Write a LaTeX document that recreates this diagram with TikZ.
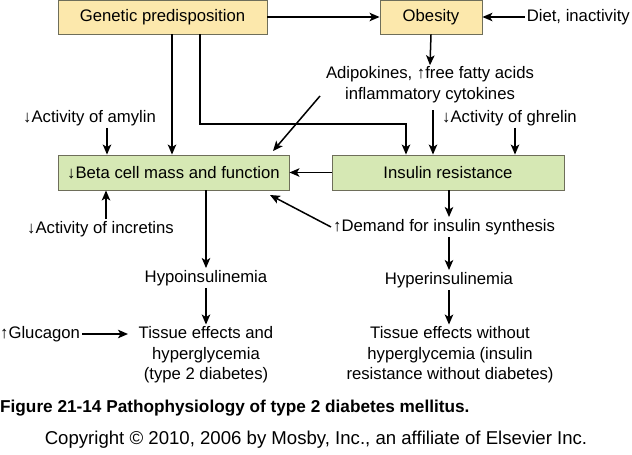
\documentclass[tikz,border=0pt]{standalone}
\usepackage{fontspec}
\setmainfont{Liberation Sans}
\usetikzlibrary{arrows.meta}
\definecolor{ybox}{HTML}{FCE8AC}
\definecolor{gbox}{HTML}{D6E8B4}
\definecolor{bdr}{HTML}{6E6E5A}
\tikzset{
  arr/.style={draw=black, line width=1.5pt, -{Stealth[length=10pt,width=8.5pt,inset=2.5pt]}},
  yb/.style={draw=bdr, fill=ybox, line width=0.9pt, inner sep=0pt},
  gb/.style={draw=bdr, fill=gbox, line width=0.9pt, inner sep=0pt},
  lbl/.style={inner sep=2pt, align=center}
}
\begin{document}
\begin{tikzpicture}[x=1pt,y=-1pt,font=\fontsize{16.7}{20.5}\selectfont]
\useasboundingbox[fill=white] (0,0) rectangle (632,455);
% boxes
\node[yb, minimum width=209pt, minimum height=34pt] (gen) at (162.5,17) {Genetic predisposition};
\node[yb, minimum width=102pt, minimum height=34pt] (obe) at (431,17) {Obesity};
\node[gb, minimum width=231pt, minimum height=35pt] (beta) at (173.5,172.5) {↓Beta cell mass and function};
\node[gb, minimum width=232pt, minimum height=35pt] (ir) at (448,172.5) {Insulin resistance};
% labels
\node[lbl, anchor=east] (diet) at (632,17) {Diet, inactivity};
\node[lbl] (adip) at (430,84.5) {Adipokines, ↑free fatty acids\\inflammatory cytokines};
\node[lbl, anchor=west] (ghr) at (440,118) {↓Activity of ghrelin};
\node[lbl, anchor=west] (amy) at (21,118) {↓Activity of amylin};
\node[lbl, anchor=west] (inc) at (25,229) {↓Activity of incretins};
\node[lbl] (hypo) at (206,278) {Hypoinsulinemia};
\node[lbl] (t2d) at (206,355) {Tissue effects and\\hyperglycemia\\(type 2 diabetes)};
\node[lbl, anchor=west] (gluc) at (-2,334) {↑Glucagon};
\node[lbl, anchor=west] (dem) at (331,227) {↑Demand for insulin synthesis};
\node[lbl] (hyper) at (449,280) {Hyperinsulinemia};
\node[lbl] (nod) at (450,355) {Tissue effects without\\hyperglycemia (insulin\\resistance without diabetes)};
\node[anchor=west, inner sep=0pt, font=\fontsize{17.2}{20}\selectfont\bfseries] (cap) at (0,408) {Figure 21-14 Pathophysiology of type 2 diabetes mellitus.};
\node[inner sep=0pt, font=\fontsize{18.6}{22}\selectfont] (copy) at (316,440) {Copyright © 2010, 2006 by Mosby, Inc., an affiliate of Elsevier Inc.};
% helper coordinates
\coordinate (c1) at (172,0);
\coordinate (g2) at (200,124);
\coordinate (bend) at (406,124);
\coordinate (a1) at (433,110);
\coordinate (gh) at (515,0);
\coordinate (am) at (107,0);
\coordinate (in) at (106,0);
\coordinate (bd) at (206,0);
\coordinate (d1) at (320,96);
\coordinate (d1e) at (273,151);
\coordinate (d2e) at (270,195);
\coordinate (gend) at (128,334);
\coordinate (irx) at (449,0);
% connectors
\draw[arr] (gen.east) -- (obe.west);
\draw[arr] (diet.west) -- (obe.east);
\draw[arr] (obe.south) -- ([yshift=-1pt]adip.north);
\draw[arr] (gen.south -| c1) -- (beta.north -| c1);
\draw[arr] (gen.south -| g2) -- (g2) -- (bend) -- (ir.north -| bend);
\draw[arr] (a1) -- (ir.north -| a1);
\draw[arr] (ghr.south -| gh) -- (ir.north -| gh);
\draw[arr] (d1) -- (d1e);
\draw[arr] (amy.south -| am) -- (beta.north -| am);
\draw[arr] (inc.north -| in) -- (beta.south -| in);
\draw[arr] (ir.west) -- (beta.east);
\draw[arr] (beta.south -| bd) -- (hypo.north);
\draw[arr] (hypo.south) -- (t2d.north);
\draw[arr] (gluc.east) -- (gend);
\draw[arr] (ir.south -| irx) -- (dem.north -| irx);
\draw[arr] (dem.west) -- (d2e);
\draw[arr] (dem.south -| irx) -- (hyper.north -| irx);
\draw[arr] (hyper.south -| irx) -- (nod.north -| irx);
\end{tikzpicture}
\end{document}
